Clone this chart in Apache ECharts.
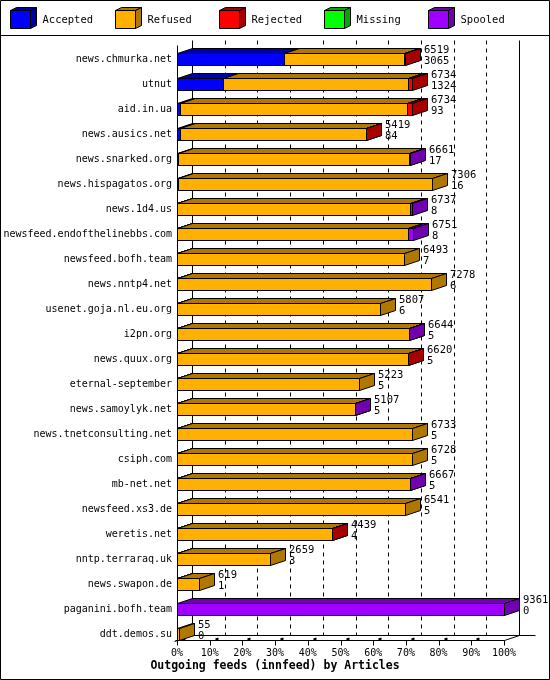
<!DOCTYPE html>
<html><head><meta charset="utf-8">
<script src="https://cdn.jsdelivr.net/npm/echarts@6/dist/echarts.min.js"></script>
<style>html,body{margin:0;padding:0;background:#fff}#c{width:550px;height:680px}</style>
</head><body><div id="c"></div>
<script>
const categories = ['news.chmurka.net','utnut','aid.in.ua','news.ausics.net','news.snarked.org','news.hispagatos.org','news.1d4.us','newsfeed.endofthelinebbs.com','newsfeed.bofh.team','news.nntp4.net','usenet.goja.nl.eu.org','i2pn.org','news.quux.org','eternal-september','news.samoylyk.net','news.tnetconsulting.net','csiph.com','mb-net.net','newsfeed.xs3.de','weretis.net','nntp.terraraq.uk','news.swapon.de','paganini.bofh.team','ddt.demos.su'];
const accepted = [3065,1324,93,84,17,16,8,8,7,6,6,5,5,5,5,5,5,5,5,4,3,1,0,0];
const refused  = [3439,5290,6491,5325,6634,7290,6669,6613,6486,7272,5801,6629,6605,5218,5092,6728,6723,6652,6536,4425,2656,618,0,55];
const rejected = [15,120,150,10,0,0,0,0,0,0,0,0,10,0,0,0,0,0,0,10,0,0,0,0];
const missing  = [0,0,0,0,0,0,0,0,0,0,0,0,0,0,0,0,0,0,0,0,0,0,0,0];
const spooled  = [0,0,0,0,10,0,60,130,0,0,0,10,0,0,10,0,0,10,0,0,0,0,9361,0];
const seriesNames = ['Accepted','Refused','Rejected','Missing','Spooled'];
const percentTicks = [0,10,20,30,40,50,60,70,80,90,100];
const titleText = 'Outgoing feeds (innfeed) by Articles';

const frontColors = ['#0000ff','#ffb000','#ff0000','#00ff00','#a000ff'];
const darkColors  = ['#0000a8','#b07800','#a80000','#00a800','#7000b0'];
const FONT = '"DejaVu Sans Mono", "Liberation Mono", monospace';
const DX = 15, DY = 5, BAR_H = 12;

const segs = [accepted, refused, rejected, missing, spooled];
const totals = categories.map((_, i) => segs.reduce((s, a) => s + a[i], 0));
const maxTotal = Math.max(...totals);
const barData = categories.map((_, i) => [i, ...segs.map(a => a[i] / maxTotal * 100), totals[i], accepted[i]]);

const P = v => Math.round(v) + 0.5;
const lastIdx = categories.length - 1;

function renderBar(params, api) {
  const i = api.value(0);
  const c = api.coord([0, i]);
  const yt = Math.round(c[1] - BAR_H / 2) + 0.5;
  const yb = yt + BAR_H;
  const children = [];
  let cum = 0, xeEnd = P(c[0]);
  for (let k = 0; k < 5; k++) {
    const v = api.value(k + 1);
    if (v <= 0) continue;
    const xs = P(api.coord([cum, i])[0]);
    const xe = P(api.coord([cum + v, i])[0]);
    const st = { fill: frontColors[k], stroke: '#000', lineWidth: 1 };
    const sd = { fill: darkColors[k], stroke: '#000', lineWidth: 1 };
    children.push({ type: 'polygon', shape: { points: [[xs, yt], [xe, yt], [xe, yb], [xs, yb]] }, style: st });
    children.push({ type: 'polygon', shape: { points: [[xs, yt], [xe, yt], [xe + DX, yt - DY], [xs + DX, yt - DY]] }, style: sd });
    children.push({ type: 'polygon', shape: { points: [[xe, yt], [xe + DX, yt - DY], [xe + DX, yb - DY], [xe, yb]] }, style: sd });
    cum += v;
    xeEnd = xe;
  }
  children.push({
    type: 'text', x: Math.round(xeEnd) + DX + 3, y: c[1] - 14.5,
    style: { text: api.value(6) + '\n' + api.value(7), font: '10.5px ' + FONT, fill: '#000', verticalAlign: 'top', lineHeight: 11 }
  });
  return { type: 'group', children };
}

function renderFrame(params, api) {
  const top = api.coord([0, 0]);
  const bot = api.coord([0, lastIdx]);
  const x0 = P(top[0]);
  const x100 = P(api.coord([100, 0])[0]);
  const yTopBack = Math.round(top[1] - BAR_H / 2 - DY - 8) + 0.5;
  const yFloor = Math.round(bot[1] + BAR_H / 2) + 0.5;
  const yFloorBack = yFloor - DY;
  const ls = { stroke: '#000', lineWidth: 1 };
  const ch = [];
  const line = (x1, y1, x2, y2, style) => ch.push({ type: 'line', shape: { x1, y1, x2, y2 }, style: style || ls });
  line(x0 + DX, yTopBack, x0 + DX, yFloorBack);
  line(x100 + DX, yTopBack, x100 + DX, yFloorBack);
  line(x0, yTopBack + DY, x0, yFloor + 2);
  percentTicks.forEach(p => {
    if (p === 0 || p === 100) return;
    const x = P(api.coord([p, 0])[0]) + DX;
    line(x, yTopBack, x, yFloorBack, { stroke: '#000', lineWidth: 1, lineDash: [4, 4] });
  });
  line(x0 - 2, yFloor, x100, yFloor);
  line(x0 + DX, yFloorBack, x100 + DX + 16, yFloorBack);
  line(x0 - 3, yFloor + 1, x0 + DX, yFloorBack);
  line(x100, yFloor, x100 + DX, yFloorBack);
  percentTicks.forEach(p => {
    const x = P(api.coord([p, 0])[0]);
    line(x, yFloor, x, yFloor + 5);
    if (p !== 100) line(x + 5, yFloor - 1, x + 8, yFloor - 2, { stroke: '#000', lineWidth: 2 });
  });
  return { type: 'group', children: ch };
}

const legendGraphics = [];
seriesNames.forEach((name, k) => {
  const bx = Math.round(10 + k * 104.6) + 0.5;
  const by = 10.5;
  const st = { stroke: '#000', lineWidth: 1 };
  legendGraphics.push({ type: 'polygon', shape: { points: [[bx, by], [bx + 20, by], [bx + 20, by + 18], [bx, by + 18]] }, style: Object.assign({ fill: frontColors[k] }, st) });
  legendGraphics.push({ type: 'polygon', shape: { points: [[bx, by], [bx + 6, by - 3], [bx + 26, by - 3], [bx + 20, by]] }, style: Object.assign({ fill: darkColors[k] }, st) });
  legendGraphics.push({ type: 'polygon', shape: { points: [[bx + 20, by], [bx + 26, by - 3], [bx + 26, by + 15], [bx + 20, by + 18]] }, style: Object.assign({ fill: darkColors[k] }, st) });
  legendGraphics.push({ type: 'text', x: bx + 32, y: 20, style: { text: name, font: '10.5px ' + FONT, fill: '#000', verticalAlign: 'middle' } });
});
legendGraphics.push({ type: 'line', shape: { x1: 0, y1: 35.5, x2: 550, y2: 35.5 }, style: { stroke: '#000', lineWidth: 1 } });
legendGraphics.push({ type: 'rect', shape: { x: 0.5, y: 0.5, width: 549, height: 679 }, style: { fill: null, stroke: '#000', lineWidth: 1 } });

const chart = echarts.init(document.getElementById('c'), null, { renderer: 'canvas' });
chart.setOption({
  animation: false,
  backgroundColor: '#fff',
  title: { text: titleText, left: 'center', top: 660, padding: 0, textStyle: { fontFamily: FONT, fontWeight: 'bold', fontSize: 11.5, color: '#000' } },
  grid: { left: 177, top: 46.5, width: 327, height: 600 },
  xAxis: {
    type: 'value', min: 0, max: 100, interval: 10,
    axisLine: { show: false }, axisTick: { show: false }, splitLine: { show: false },
    axisLabel: { formatter: '{value}%', fontFamily: FONT, fontSize: 10, color: '#000', margin: 2 }
  },
  yAxis: {
    type: 'category', inverse: true, data: categories,
    axisLine: { show: false }, axisTick: { show: false },
    axisLabel: { fontFamily: FONT, fontSize: 10, color: '#000', margin: 5, interval: 0 }
  },
  graphic: legendGraphics,
  series: [
    { type: 'custom', name: 'frame', z: 1, silent: true, renderItem: renderFrame, data: [[0, 0]], encode: { x: 0, y: 1 } },
    { type: 'custom', name: 'bars', z: 2, renderItem: renderBar, data: barData, encode: { x: [1, 2, 3, 4, 5], y: 0 } }
  ]
});
</script></body></html>
